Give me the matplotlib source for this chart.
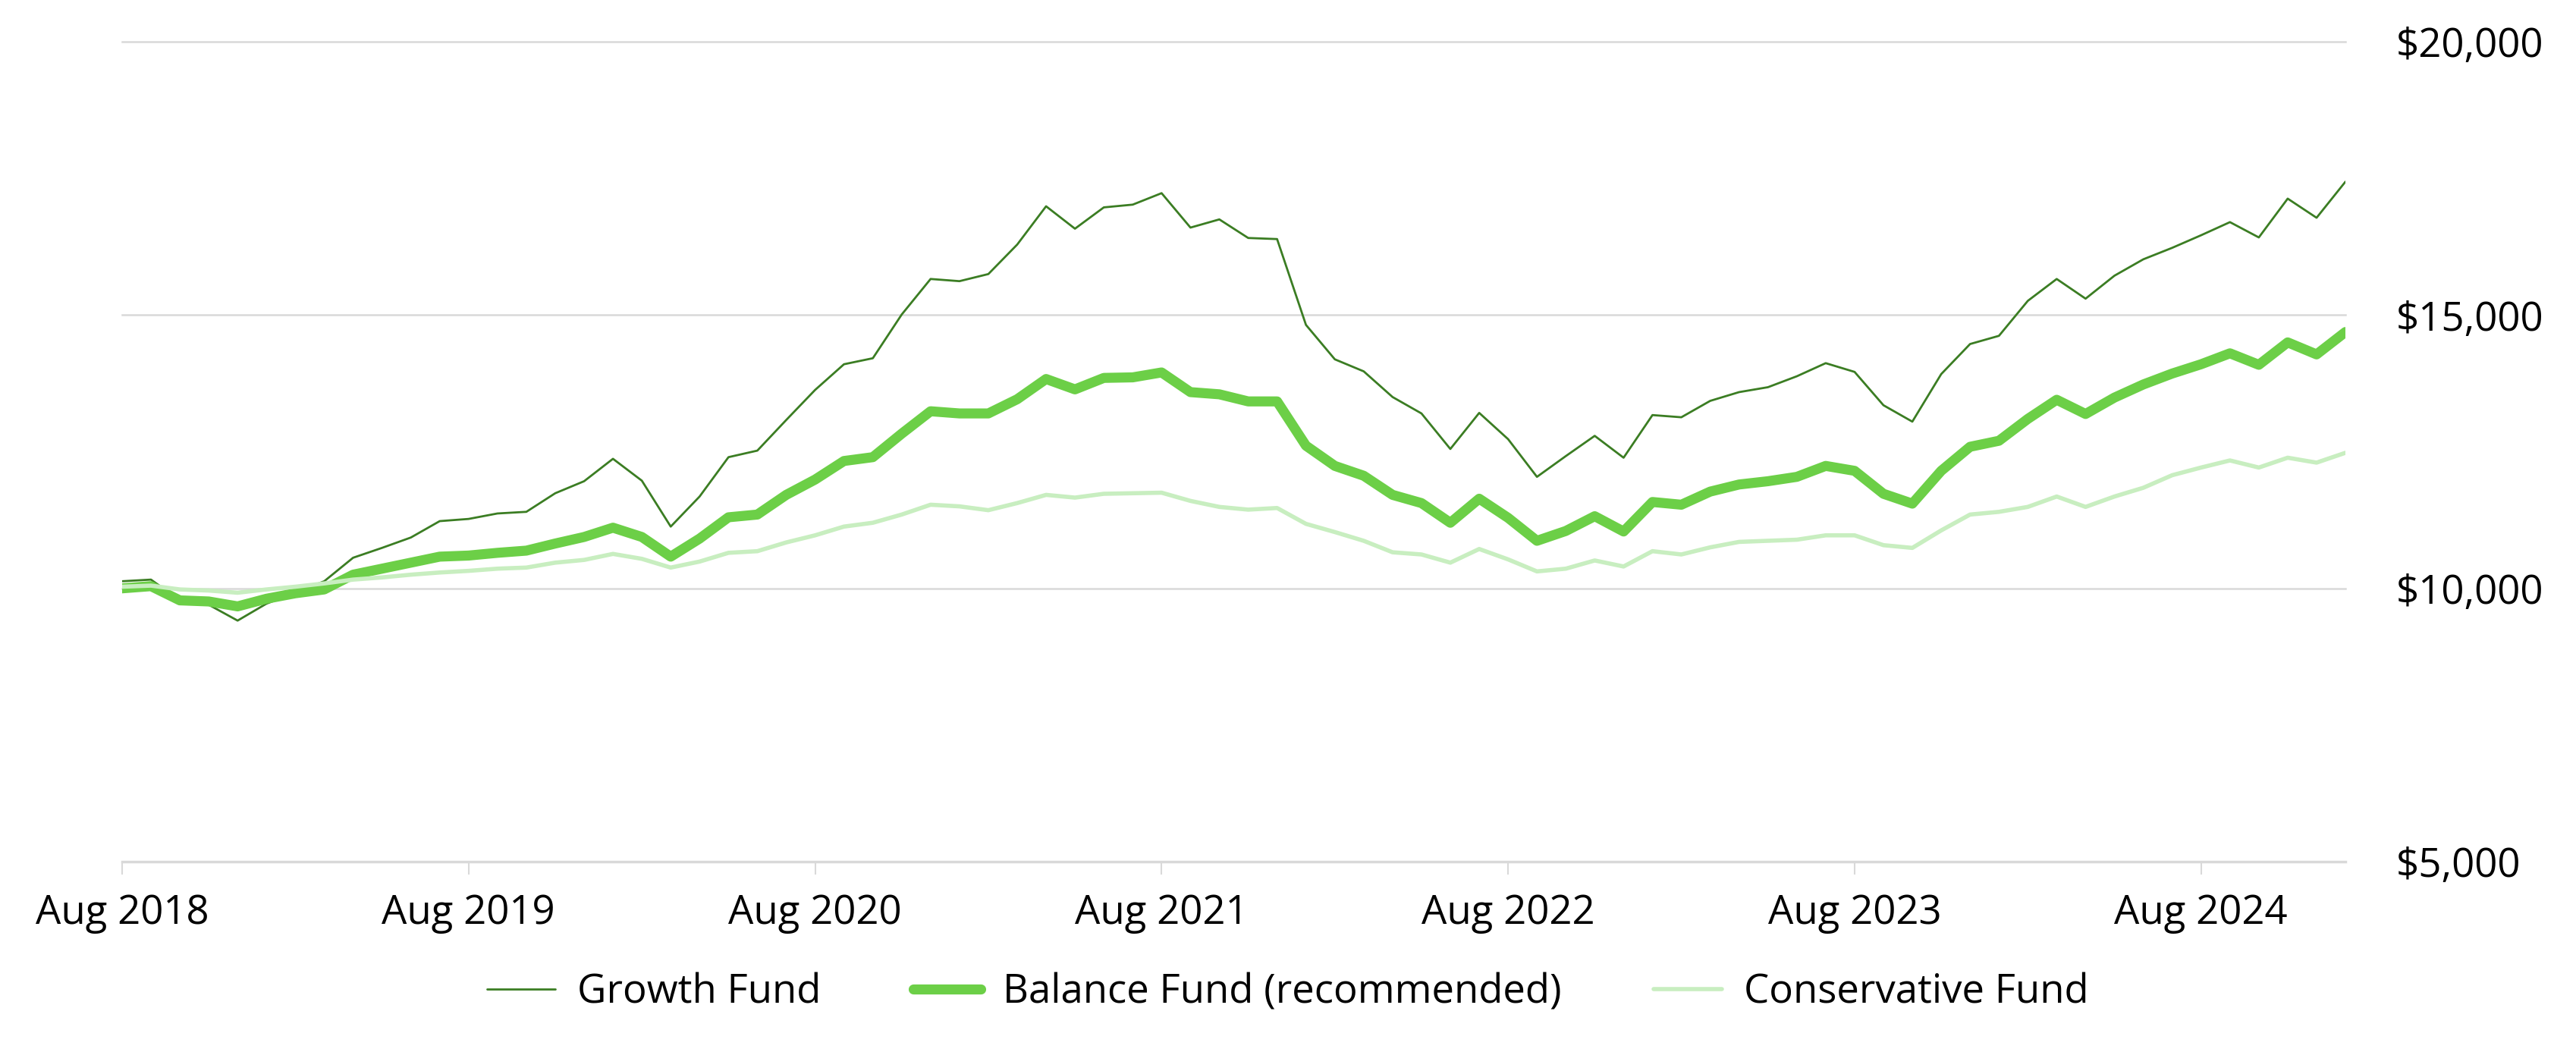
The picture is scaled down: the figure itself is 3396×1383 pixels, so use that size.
import matplotlib
matplotlib.use('Agg')
import matplotlib.pyplot as plt

plt.rcParams['font.family'] = ['Open Sans', 'DejaVu Sans']

# monthly values, Aug 2018 .. Jan 2025 (78 months)
growth = [10130, 10160, 9780, 9700, 9410, 9720, 9920, 10130, 10560, 10740,
          10930, 11230, 11270, 11370, 11400, 11740, 11960, 12370, 11970, 11130,
          11680, 12400, 12520, 13080, 13630, 14100, 14210, 15010, 15660, 15620,
          15750, 16290, 16990, 16580, 16970, 17020, 17230, 16600, 16750, 16410,
          16390, 14820, 14190, 13970, 13500, 13200, 12550, 13210, 12730, 12040,
          12420, 12790, 12390, 13170, 13130, 13430, 13590, 13680, 13880, 14120,
          13960, 13350, 13050, 13920, 14470, 14620, 15260, 15660, 15300, 15720,
          16020, 16230, 16460, 16700, 16420, 17130, 16780, 17440]
balance = [10000, 10040, 9780, 9760, 9670, 9810, 9910, 9980, 10250, 10360,
           10470, 10580, 10600, 10650, 10690, 10820, 10940, 11110, 10940, 10580,
           10910, 11300, 11350, 11710, 11990, 12330, 12400, 12830, 13240, 13200,
           13200, 13460, 13830, 13640, 13850, 13860, 13950, 13590, 13550, 13420,
           13420, 12610, 12240, 12060, 11710, 11560, 11200, 11640, 11290, 10870,
           11050, 11320, 11040, 11580, 11530, 11770, 11900, 11960, 12040, 12240,
           12150, 11730, 11550, 12150, 12590, 12700, 13100, 13450, 13190, 13490,
           13730, 13930, 14100, 14300, 14090, 14500, 14280, 14690]
conservative = [10030, 10050, 9980, 9960, 9920, 9980, 10030, 10090, 10160, 10200,
                10250, 10290, 10320, 10360, 10380, 10470, 10520, 10630, 10540, 10380,
                10490, 10650, 10680, 10840, 10970, 11130, 11200, 11350, 11530, 11500,
                11430, 11560, 11710, 11660, 11730, 11740, 11750, 11600, 11490, 11440,
                11470, 11180, 11030, 10870, 10660, 10620, 10470, 10720, 10530, 10310,
                10360, 10510, 10400, 10680, 10620, 10750, 10850, 10870, 10890, 10970,
                10970, 10790, 10740, 11060, 11350, 11400, 11490, 11680, 11490, 11680,
                11840, 12070, 12210, 12340, 12210, 12390, 12300, 12480]

names = ['Growth Fund', 'Balance Fund (recommended)', 'Conservative Fund']
colors = ['#3b7d23', '#6ccf47', '#c8eec0']
widths = [2, 9.5, 4]

x_ticks = [0, 12, 24, 36, 48, 60, 72]
x_labels = ['Aug 2018', 'Aug 2019', 'Aug 2020', 'Aug 2021', 'Aug 2022', 'Aug 2023', 'Aug 2024']
y_ticks = [5000, 10000, 15000, 20000]
y_labels = ['$5,000', '$10,000', '$15,000', '$20,000']

months = list(range(len(growth)))

fig = plt.figure(figsize=(33.96, 13.83), dpi=100)
ax = fig.add_axes([0.0474, 0.1786, 0.8631, 0.7816])

series = [growth, balance, conservative]
for i in range(3):
    ax.plot(months, series[i], color=colors[i], lw=widths[i], label=names[i],
            solid_joinstyle='round', solid_capstyle='round', zorder=3 + i)

ax.set_xlim(0, months[-1])
ax.set_ylim(5000, 20000)

ax.set_xticks(x_ticks)
ax.set_xticklabels(x_labels, fontsize=38)
ax.set_yticks(y_ticks)
ax.set_yticklabels(y_labels, fontsize=38)
ax.yaxis.tick_right()
ax.tick_params(axis='y', length=0, pad=48)
ax.tick_params(axis='x', length=12, width=1.5, color='#d9d9d9', pad=18)

for s in ['top', 'left', 'right']:
    ax.spines[s].set_visible(False)
ax.spines['bottom'].set_color('#d9d9d9')
ax.spines['bottom'].set_linewidth(2.5)

ax.grid(axis='y', color='#d9d9d9', lw=1.8)
ax.set_axisbelow(True)
for gl in ax.get_ygridlines():
    gl.set_clip_on(False)

fig.legend(loc='center', bbox_to_anchor=(0.5, 0.0535), ncol=3, frameon=False,
           fontsize=38, handlelength=1.7, handletextpad=0.55, columnspacing=2.3)

fig.savefig('out.png', dpi=100, facecolor='white')
